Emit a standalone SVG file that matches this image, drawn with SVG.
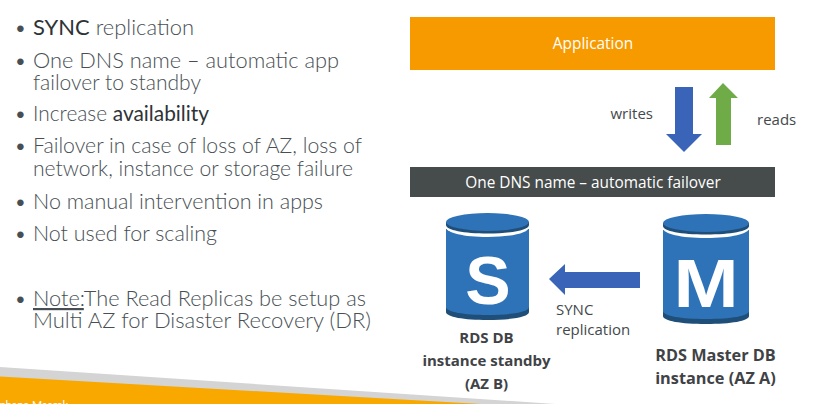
<svg xmlns="http://www.w3.org/2000/svg" width="821" height="404" viewBox="0 0 821 404">
<style>
.b{font-family:Lato,"Liberation Sans",sans-serif;font-weight:300;font-size:22px;fill:#484f54}
.d{font-weight:400;fill:#2f3336}
.c{font-family:"Open Sans","Noto Sans",sans-serif;font-size:15px;fill:#44494c}
.h{font-family:"Open Sans","Noto Sans",sans-serif;font-weight:700;fill:#3f4346;text-anchor:middle}
.w{font-family:"Open Sans","Noto Sans",sans-serif;font-size:15.400px;fill:#fff;text-anchor:middle}
.l{font-family:"Liberation Sans",sans-serif;font-weight:700;fill:#fff;text-anchor:middle}
.body{fill:#2e73b8}.dark{fill:#1f4e79}
</style>
<rect width="821" height="404" fill="#fff"/>
<g id="slide-footer">
<polygon points="0,367 555,404 0,404" fill="#d4d4d4"/>
<polygon points="0,376.500 481,404 0,404" fill="#f9a800"/>
<text x="-16" y="409" font-family="Lato,sans-serif" font-size="11" fill="#fff">Stephane Maarek</text>
</g>
<g id="bullets">
<text class="b" x="14" y="35">•</text><text class="b" x="33" y="35" textLength="161" lengthAdjust="spacingAndGlyphs"><tspan class="d">SYNC</tspan> replication</text>
<text class="b" x="14" y="68">•</text><text class="b" x="33" y="68" textLength="306" lengthAdjust="spacingAndGlyphs">One DNS name – automatic app</text>
<text class="b" x="33" y="90" textLength="168" lengthAdjust="spacingAndGlyphs">failover to standby</text>
<text class="b" x="14" y="121">•</text><text class="b" x="33" y="121" textLength="176" lengthAdjust="spacingAndGlyphs">Increase <tspan class="d">availability</tspan></text>
<text class="b" x="14" y="153">•</text><text class="b" x="33" y="153" textLength="329" lengthAdjust="spacingAndGlyphs">Failover in case of loss of AZ, loss of</text>
<text class="b" x="33" y="176" textLength="320" lengthAdjust="spacingAndGlyphs">network, instance or storage failure</text>
<text class="b" x="14" y="209">•</text><text class="b" x="33" y="209" textLength="290" lengthAdjust="spacingAndGlyphs">No manual intervention in apps</text>
<text class="b" x="14" y="241">•</text><text class="b" x="33" y="241" textLength="184" lengthAdjust="spacingAndGlyphs">Not used for scaling</text>
<text class="b" x="14" y="306">•</text><text class="b" x="33" y="306" textLength="333" lengthAdjust="spacingAndGlyphs"><tspan text-decoration="underline">Note:</tspan>The Read Replicas be setup as</text>
<text class="b" x="33" y="328" textLength="338" lengthAdjust="spacingAndGlyphs">Multi AZ for Disaster Recovery (DR)</text>
</g>
<g id="application">
<rect x="410" y="17" width="365" height="53" fill="#f79a00"/>
<text class="w" x="593" y="49">Application</text>
</g>
<g id="dns-bar">
<rect x="410" y="167" width="365" height="30" fill="#464b4b"/>
<text class="w" x="593" y="188">One DNS name – automatic failover</text>
</g>
<g id="standby">
<path class="dark" d="M446 300v12c0 5 18 8 41.500 8s41.500-3 41.500-8v-12z"/>
<path class="body" d="M446 229v78c0 5 18 8 41.500 8s41.500-3 41.500-8v-78z"/>
<path d="M446 222v5c0 6 18 10 41.500 10s41.500-4 41.500-10v-5z" fill="#fff"/>
<path class="dark" d="M446 222v3c0 5 18 8.500 41.500 8.500s41.500-3.500 41.500-8.500v-3z"/>
<ellipse class="body" cx="487.500" cy="222" rx="41.500" ry="9"/>
<text class="l" x="488" y="304" font-size="68">S</text>
<text class="h" font-size="15"><tspan x="486.500" y="343">RDS DB</tspan><tspan x="486.500" y="366">instance standby</tspan><tspan x="486.500" y="389">(AZ B)</tspan></text>
</g>
<g id="master">
<path class="dark" d="M663 304v12c0 5 18 8 43 8s43-3 43-8v-12z"/>
<path class="body" d="M663 230v81c0 5 18 8 43 8s43-3 43-8v-81z"/>
<path d="M663 223v5c0 6 18 10 43 10s43-4 43-10v-5z" fill="#fff"/>
<path class="dark" d="M663 223v3c0 5 18 8.500 43 8.500s43-3.500 43-8.500v-3z"/>
<ellipse class="body" cx="706" cy="223" rx="43" ry="9"/>
<text class="l" transform="translate(706 307) scale(1.150 1)" font-size="68">M</text>
<text class="h" font-size="16.300"><tspan x="715.500" y="361">RDS Master DB</tspan><tspan x="715.500" y="384">instance (AZ A)</tspan></text>
</g>
<g id="connectors">
<polygon points="675,87 693,87 693,134 702,134 684,152 666,134 675,134" fill="#3a64b8"/>
<polygon points="716,145 731,145 731,98 738,98 723,83 709,98 716,98" fill="#6fab47"/>
<polygon points="640,272 640,288 565,288 565,295 549,279 565,264 565,272" fill="#3a64b8"/>
<text class="c" x="610.500" y="119">writes</text>
<text class="c" x="757" y="125">reads</text>
<text class="c" x="556" y="315">SYNC</text>
<text class="c" x="556" y="335">replication</text>
</g>
</svg>
